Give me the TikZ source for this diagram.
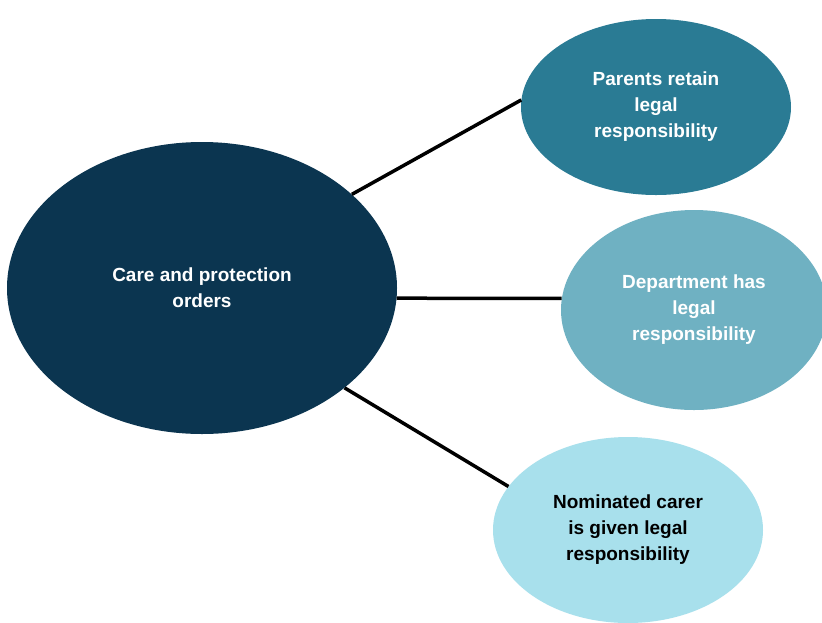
\documentclass[tikz,border=0pt]{standalone}
\usepackage{fontspec}
\setmainfont{Liberation Sans}
\usetikzlibrary{shapes.geometric}
\definecolor{cdark}{HTML}{0B3550}
\definecolor{cmid}{HTML}{2A7B94}
\definecolor{clight}{HTML}{6FB1C2}
\definecolor{cpale}{HTML}{A8E0EC}
\tikzset{
  bubble/.style={ellipse, draw=none, inner sep=0pt, align=center,
    font=\bfseries\fontsize{19}{26}\selectfont, text=white},
  link/.style={draw=black, line width=3.5pt}
}
\begin{document}
\begin{tikzpicture}[x=1pt,y=-1pt]
\clip (0,0) rectangle (822,622);
\fill[white] (0,0) rectangle (822,622);
\node[bubble, fill=cdark, minimum width=390pt, minimum height=292pt] (big) at (202,288) {Care and protection\\orders};
\node[bubble, fill=cmid, minimum width=270pt, minimum height=176pt] (top) at (656,107) {Parents retain\\legal\\responsibility};
\node[bubble, fill=clight, minimum width=266pt, minimum height=200pt] (mid) at (694,310) {Department has\\legal\\responsibility};
\node[bubble, fill=cpale, text=black, minimum width=270pt, minimum height=186pt] (bot) at (628,530) {Nominated carer\\is given legal\\responsibility};
\draw[link] (big.32.3) -- (top.177);
\draw[link] (big.-3) -- (mid.175);
\draw[link] (big.-35.5) -- (bot.160);
\end{tikzpicture}
\end{document}
